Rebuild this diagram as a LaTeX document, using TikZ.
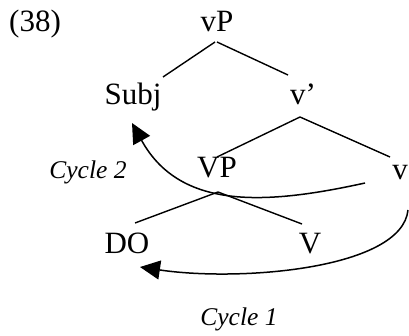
\documentclass[tikz,border=0pt]{standalone}
\usepackage{fontspec}
\setmainfont{Liberation Serif}
\usetikzlibrary{arrows.meta,calc}
\begin{document}
\begin{tikzpicture}[x=1pt,y=-1pt,
  lab/.style={inner sep=0pt,anchor=base,font=\fontsize{31}{36}\selectfont},
  cyc/.style={inner sep=0pt,anchor=base,font=\fontsize{25.5}{30}\selectfont\itshape},
  branch/.style={line width=1.4pt},
  move/.style={line width=1.5pt,-{Triangle[length=20pt,width=19pt]}}]
\useasboundingbox (0,0) rectangle (409,335);
\node[lab] (num) at (35,31) {(38)};
\node[lab] (vP) at (217,31) {vP};
\node[lab] (Subj) at (133,104) {Subj};
\node[lab] (vbar) at (303,104) {v’};
\node[lab] (VP) at (217,177) {VP};
\node[lab] (v) at (400,179) {v};
\node[lab] (DO) at (127,253) {DO};
\node[lab] (V) at (310,253) {V};
\node[cyc] (c2) at (88,178) {Cycle 2};
\node[cyc] (c1) at (239,325) {Cycle 1};
\draw[branch] ($(vP.base)+(-2,11)$) -- ($(Subj.base)+(30,-27)$);
\draw[branch] ($(vP.base)+(0,11)$) -- ($(vbar.base)+(-15,-29)$);
\draw[branch] ($(vbar.base)+(-3,13)$) -- ($(VP.base)+(0,-20)$);
\draw[branch] ($(vbar.base)+(-3,13)$) -- ($(v.base)+(-10,-22)$);
\draw[branch] ($(VP.base)+(1,15)$) -- ($(DO.base)+(8,-30)$);
\draw[branch] ($(VP.base)+(1,15)$) -- ($(V.base)+(-8,-29)$);
\draw[move] ($(v.base)+(-35,4)$) .. controls ($(v.base)+(-135,26)$) and ($(Subj.base)+(47,106)$) .. ($(Subj.base)+(-1,19)$);
\draw[move] ($(v.base)+(8,31)$) .. controls ($(v.base)+(2,90)$) and ($(DO.base)+(113,29)$) .. ($(DO.base)+(13,14)$);
\end{tikzpicture}
\end{document}
